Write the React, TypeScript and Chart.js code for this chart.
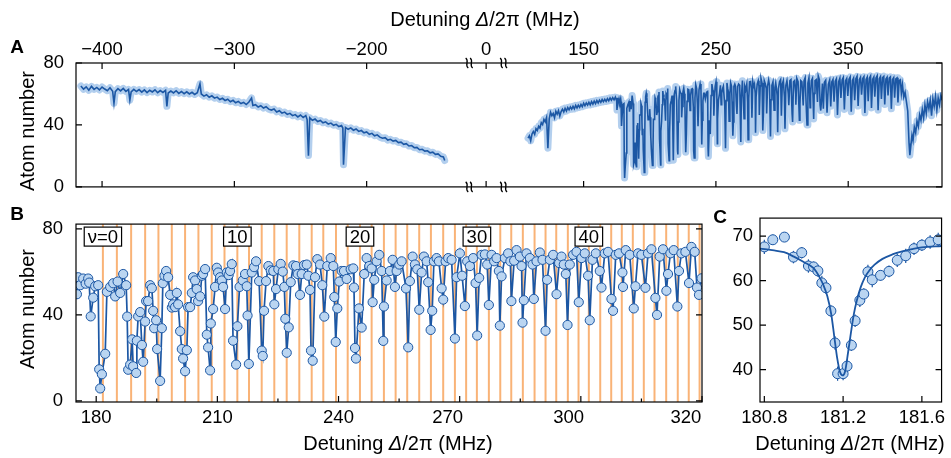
import React, { useEffect, useRef } from "react";
import { Chart, registerables } from "chart.js";

Chart.register(...registerables);

const FONT = '"Liberation Sans", Arial, Helvetica, sans-serif';
const DARK = "#1c57a4";
const LIGHT = "#bad5f1";
const BAND = "#b3cfee";
const ORANGE = "rgba(247,150,66,0.72)";
const TICK_FONT = { family: FONT, size: 18.5 };

// ---------------- Panel A (broken detuning axis) ----------------
const aLeftPoints: number[][] = [
  [-416,65.2],[-414,63.1],[-412,64.6],[-410,62.4],[-408,64.9],[-406,63.0],[-404,64.2],[-402,62.6],[-400,64.5],[-398,63.2],
  [-396,62.1],[-394,64.0],[-392,61.8],[-391,54.0],[-390,61.5],[-388,63.4],[-386,62.0],[-384,63.6],[-382,61.7],[-380,62.9],
  [-379,56.0],[-378,61.4],[-376,63.0],[-374,61.6],[-372,62.8],[-370,61.2],[-368,62.6],[-366,60.9],[-364,62.4],[-362,61.3],
  [-360,62.7],[-358,60.8],[-356,62.2],[-354,61.0],[-352,62.4],[-351,52.0],[-350,60.6],[-348,61.9],[-346,60.7],[-344,62.1],
  [-342,60.4],[-340,61.6],[-338,60.2],[-336,61.4],[-334,60.0],[-332,61.1],[-330,59.7],[-328,60.8],[-326,66.5],[-325,60.0],
  [-323,58.6],[-321,59.5],[-319,57.9],[-317,58.8],[-315,57.3],[-313,58.0],[-311,56.4],[-309,57.2],[-307,55.8],[-305,56.6],
  [-303,55.0],[-301,55.9],[-299,54.3],[-297,55.2],[-295,53.8],[-293,54.6],[-291,53.2],[-289,54.8],[-287,57.4],[-286,52.6],
  [-284,53.1],[-282,51.6],[-280,52.4],[-278,50.9],[-276,51.8],[-274,50.2],[-272,49.6],[-270,50.3],[-268,48.4],[-266,49.2],
  [-264,47.6],[-262,48.3],[-260,46.8],[-258,47.5],[-256,46.0],[-254,46.7],[-252,45.2],[-250,46.4],[-248,44.8],[-246,46.1],
  [-245,43.5],[-244,20.2],[-243,44.6],[-241,43.0],[-239,43.8],[-237,42.2],[-235,42.9],[-233,41.4],[-231,42.0],[-229,40.6],
  [-227,41.2],[-225,39.8],[-223,40.4],[-221,39.0],[-219,39.6],[-218,38.0],[-217.5,14.3],[-216,38.4],[-214,37.2],[-212,38.1],
  [-210,36.6],[-208,37.4],[-206,35.8],[-204,36.4],[-202,34.9],[-200,35.5],[-198,34.0],[-196,34.6],[-194,33.0],[-192,33.6],
  [-190,32.1],[-188,31.4],[-186,31.8],[-184,30.2],[-182,30.7],[-180,29.6],[-178,30.0],[-176,28.6],[-174,28.9],[-172,27.5],
  [-170,27.9],[-168,26.4],[-166,26.7],[-164,25.3],[-162,25.5],[-160,24.0],[-158,24.3],[-156,23.1],[-154,23.3],[-152,22.0],
  [-150,22.4],[-148,21.0],[-146,21.3],[-144,19.8],[-142,19.4],[-141,17.0]
];

const aRightPrePoints: number[][] = [
  [108,31.5],[109,33.0],[110,29.8],[111,34.2],[112,35.8],[113,34.0],[114,37.6],[115,36.4],[116,39.2],[117,38.0],
  [118,41.5],[119,40.2],[120,43.6],[121,42.0],[122,44.8],[123,25.0],[124,44.0],[125,48.2],[126,46.0],[127,47.4],
  [128,44.6],[129,48.8],[130,47.0],[131,49.2],[132,45.8],[133,48.6],[134,50.2],[135,48.4],[136,50.8],[137,49.0],
  [138,51.2],[139,49.8],[140,51.6],[141,50.2],[142,52.0],[143,50.4],[144,52.6],[145,51.0],[146,52.8],[147,51.4],
  [148,53.2],[149,51.8],[150,54.0],[151,52.4],[152,54.2],[153,52.8],[154,54.6],[155,53.0],[156,55.0],[157,53.4],
  [158,55.4],[159,53.8],[160,55.8],[161,54.2],[162,56.0],[163,54.6],[164,56.4],[165,55.0],[166,56.6],[167,55.2],
  [168,57.0],[169,55.6],[170,57.4],[171,56.0],[172,57.6],[173,56.2],[174,58.0],[175,55.5]
];

const aRightPostPoints: number[][] = [
  [330.5,66.8],[331.2,50.5],[332,67.5],[333,68.8],[334,47.9],[335,66.2],[336,69.0],[336.8,52.0],[337.6,67.8],[338.5,69.4],
  [339.3,55.0],[340.2,68.2],[341.1,69.8],[341.9,46.5],[342.8,68.0],[343.7,70.2],[344.5,57.5],[345.4,69.0],[346.3,70.6],[347.1,50.0],
  [348,68.5],[348.9,70.0],[349.7,58.8],[350.6,69.6],[351.5,71.0],[352.3,48.5],[353.2,68.8],[354.1,70.4],[354.9,56.0],[355.8,69.8],
  [356.7,71.4],[357.5,52.2],[358.4,69.2],[359.3,70.8],[360.1,59.5],[361,70.0],[361.9,71.2],[362.6,47.8],[363.5,69.4],[364.4,70.9],
  [365.1,55.4],[366,70.2],[366.9,71.6],[367.6,51.0],[368.5,69.6],[369.4,71.0],[370.1,58.2],[371,70.4],[371.9,71.8],[372.6,49.5],
  [373.5,69.8],[374.4,71.2],[375.1,56.8],[376,70.6],[376.9,71.4],[377.6,53.2],[378.5,69.6],[379.4,70.8],[380.1,59.0],[381,70.2],
  [381.9,71.0],[382.6,50.4],[383.5,69.4],[384.4,70.6],[385.1,57.6],[386,69.8],[386.9,70.4],[387.6,54.5],[388.5,68.6],[389.4,69.2],
  [390.2,60.5],[391,66.0],[392,58.0],[393,61.0],[394,55.0],[395,49.0],[396,28.0],[396.6,20.5],[397.4,27.0],[398.2,33.5],
  [399,30.0],[400,38.5],[401,35.0],[402,42.5],[403,39.0],[404,46.5],[405,43.0],[406,50.0],[407,44.5],[408,53.0],
  [409,47.5],[410,55.0],[411,50.5],[412,56.0],[413,46.0],[414,57.0],[415,52.0],[416,58.5],[417,49.5],[418,57.5],
  [419,53.0],[420,59.0],[421,56.0]
];

const aShift = 186; // right-hand part of the broken axis is drawn shifted by this many MHz
const aXMin = -419.7;
const aXMax = 234.9;
const aBreaks = [-122.5, -96.5];
const aZeroTickPos = -109.7;
const aLeftTicks = [-400, -300, -200];
const aRightTicks = [150, 250, 350];
const aTopTickLabels = ["\u2212400", "\u2212300", "\u2212200", "0", "150", "250", "350"];
const aYTicks = [0, 40, 80];

// ---------------- Panel B ----------------
const bPoints: number[][] = [
  [175.22,49.6],[175.55,57.5],[176.04,53.8],[176.78,56.9],[177.4,54.5],[178.02,56.9],[178.27,55.0],[178.64,39.3],[179.26,48.0],[179.75,53.3],
  [180.49,53.8],[180.74,14.7],[180.99,5.8],[181.41,12.4],[182.23,21.9],[182.65,50.7],[183.46,53.0],[184.21,54.7],[184.70,48.6],[185.3,55.5],
  [185.94,50.2],[186.68,59.0],[187.42,53.8],[187.67,39.2],[187.92,14.5],[188.41,16.9],[188.91,28.6],[189.15,16.1],[189.90,13.0],[190.07,28.0],
  [190.39,39.3],[190.89,41.3],[191.31,26.0],[191.63,18.2],[192.12,36.9],[192.37,46.4],[192.86,46.4],[193.36,53.8],[193.78,52.4],[194.10,41.9],
  [194.35,33.8],[194.84,37.5],[195.09,24.1],[195.83,9.3],[196.25,33.8],[196.50,54.7],[196.90,58.2],[197.32,60.4],[197.81,57.5],[198.31,49.3],
  [198.73,43.4],[199.05,44.9],[199.54,43.6],[199.96,50.2],[200.29,44.9],[200.78,32.4],[201.20,24.1],[201.52,19.7],[202.01,13.8],[202.44,23.6],
  [202.76,43.6],[203.26,43.6],[203.68,50.2],[204.00,57.5],[204.49,56.0],[204.9,52.0],[205.23,46.4],[205.73,48.6],[206.15,58.2],[206.47,59.0],
  [206.97,61.3],[207.39,30.8],[207.71,24.9],[208.20,14.2],[208.38,36.0],[208.95,42.7],[209.44,53.0],[209.86,61.9],[210.18,59.7],[210.68,57.5],
  [211.1,56.0],[211.42,53.0],[211.91,42.7],[212.34,59.7],[212.8,58.5],[213.15,60.4],[213.57,63.6],[213.89,28.0],[214.64,16.9],[214.96,34.7],
  [215.5,53.0],[216.29,56.0],[216.86,59.0],[217.28,53.3],[217.48,39.7],[217.80,17.2],[218.52,59.7],[219.09,62.2],[219.58,64.9],[220.33,55.7],
  [220.99,23.4],[221.24,20.9],[221.56,41.9],[222.06,55.7],[222.63,62.7],[223.22,60.7],[223.86,60.4],[224.11,44.9],[224.53,52.0],[225.10,61.2],
  [225.69,63.7],[226.19,60.1],[226.58,53.0],[226.83,38.2],[227.18,22.4],[227.67,34.2],[228.17,55.2],[228.81,63.0],[229.48,62.7],[229.90,59.0],
  [230.47,49.3],[230.89,59.0],[231.46,63.1],[232.13,63.4],[232.52,58.2],[232.94,51.6],[233.19,23.4],[233.61,18.7],[234.18,57.5],[234.75,65.9],
  [235.42,63.4],[235.99,53.8],[236.48,39.2],[237.22,62.7],[238.07,66.4],[238.71,62.7],[238.96,48.3],[239.31,27.4],[239.70,43.0],[240.19,55.5],
  [240.79,60.4],[241.36,60.4],[242.02,56.7],[243.01,61.2],[243.66,61.6],[243.83,52.7],[244.08,24.6],[244.32,19.7],[245.06,43.0],[245.73,34.1],
  [246.37,59.0],[246.96,66.4],[247.61,62.7],[248.20,61.6],[248.45,45.9],[248.85,56.3],[249.44,64.9],[250.09,67.9],[250.68,60.4],[251.08,27.9],
  [251.25,43.9],[251.92,56.0],[252.74,60.4],[253.40,65.6],[253.97,53.0],[254.39,60.4],[255.04,63.4],[255.63,64.9],[256.70,52.3],[257.26,24.9],
  [257.68,55.7],[258.35,67.1],[258.92,63.4],[259.49,61.2],[259.99,42.4],[260.58,59.7],[261.15,67.1],[261.82,64.9],[262.21,55.2],[262.81,33.0],
  [263.20,41.9],[263.62,64.9],[264.29,66.4],[264.86,64.9],[265.53,52.3],[265.92,47.1],[266.52,64.9],[267.16,66.4],[268.00,65.6],[268.82,29.0],
  [269.24,57.5],[270.05,68.6],[270.6,58.2],[271.29,44.1],[271.86,64.9],[272.53,62.7],[273.34,66.4],[273.94,54.8],[274.33,30.4],[274.83,57.2],
  [275.42,67.9],[276.24,68.1],[276.81,63.4],[277.23,44.6],[277.90,67.9],[278.54,64.9],[279.13,66.4],[279.70,60.4],[279.95,35.0],[280.37,57.9],
  [281.19,66.4],[282.00,68.6],[282.55,64.9],[282.80,46.4],[283.49,65.2],[284.08,70.1],[284.90,67.1],[285.32,62.7],[285.56,36.4],[285.89,46.8],
  [286.55,68.6],[287.37,66.4],[288.04,63.4],[288.36,47.4],[289.03,64.9],[289.85,69.0],[290.51,65.6],[291.26,32.6],[291.65,56.3],[292.32,65.6],
  [293.14,67.9],[293.98,49.6],[294.62,64.1],[295.21,67.1],[295.78,63.4],[296.28,59.0],[296.70,35.3],[297.27,63.4],[298.08,67.9],[298.92,69.3],
  [299.49,45.9],[300.16,66.4],[300.97,68.6],[301.79,58.2],[302.21,37.5],[302.88,65.6],[303.70,68.6],[304.69,60.4],[305.11,52.7],[305.92,68.6],
  [306.74,69.3],[307.58,47.4],[307.97,41.9],[308.64,67.9],[309.46,68.6],[310.30,59.7],[310.44,53.0],[311.12,70.1],[312.11,67.9],[313.10,43.0],
  [313.52,53.3],[314.16,68.6],[315.00,67.9],[315.99,52.6],[316.63,68.6],[317.47,70.5],[318.46,47.9],[318.86,40.0],[319.53,67.1],[320.34,70.5],
  [321.18,51.2],[321.58,59.0],[322.17,68.6],[322.99,70.1],[323.90,43.9],[324.30,60.4],[324.90,68.6],[325.89,69.3],[326.78,54.8],[327.37,71.6],
  [328.19,69.3],[328.76,52.7],[329.25,49.3],[329.9,57.0]
];

const bLevels = [
  181.66,185.12,188.65,192.12,195.41,198.72,202.01,205.31,208.61,211.77,
  214.95,217.84,220.98,224.10,227.17,230.29,233.36,236.23,239.37,242.27,
  245.31,248.20,251.24,254.14,257.01,259.98,262.88,265.92,268.82,271.60,
  274.26,277.23,280.05,282.77,285.64,288.54,291.26,293.91,296.78,299.43,
  301.98,304.80,307.52,310.14,312.87,315.59,318.24,321.13,324.00,326.72,329.4
];
const bLevelBoxes = [
  { level: 0, text: "\u03bd=0" },
  { level: 10, text: "10" },
  { level: 20, text: "20" },
  { level: 30, text: "30" },
  { level: 40, text: "40" }
];
const bTickLabelPos = [180, 210, 240, 267, 297, 326];
const bTickLabels = ["180", "210", "240", "270", "300", "320"];
const bMajorTicks = [180, 210, 240, 270, 300, 330];
const bMinorTicks = [195, 225, 255, 285, 315];
const bYTicks = [0, 40, 80];

// ---------------- Panel C ----------------
const cPoints: number[][] = [
  [180.800,67.6],[180.843,69.2],[180.902,69.8],[180.948,65.3],[180.990,66.3],[181.024,63.3],[181.050,63.1],[181.072,62.2],
  [181.092,59.5],[181.113,58.4],[181.138,53.2],[181.159,46.0],[181.172,39.1],[181.200,39.1],[181.220,40.8],[181.242,45.5],
  [181.261,51.0],[181.285,55.6],[181.305,57.0],[181.326,62.0],[181.348,60.2],[181.390,61.2],[181.433,62.1],[181.475,64.6],
  [181.518,65.6],[181.560,67.2],[181.600,68.0],[181.642,68.7],[181.683,69.2]
];
const cErr = [1.6,1.2,1.0,1.4,1.3,1.5,1.2,1.3,1.6,1.4,1.3,1.5,1.6,1.5,1.4,1.3,1.4,1.5,1.3,1.6,1.7,1.2,1.3,1.5,1.6,1.4,1.3,1.5,1.6];
const cFit: number[][] = [
  [180.778,67.2],[180.85,66.8],[180.9,66.4],[180.95,65.4],[181.0,64.2],[181.05,62.8],[181.08,60.8],[181.1,59.0],
  [181.12,56.5],[181.14,52.4],[181.155,47.5],[181.17,42.6],[181.185,39.4],[181.197,38.7],[181.21,39.6],[181.225,43.8],
  [181.24,48.4],[181.255,52.6],[181.27,55.6],[181.29,58.6],[181.31,60.7],[181.335,62.4],[181.36,63.6],[181.4,64.9],
  [181.45,65.9],[181.5,66.6],[181.55,67.1],[181.6,67.5],[181.7,67.8]
];
const cXTicks = [180.8, 181.2, 181.6];
const cXTickLabels = ["180.8", "181.2", "181.6"];
const cYTicks = [40, 50, 60, 70];

// ---------------- helpers ----------------
const toXY = (pts: number[][]) => pts.map(([x, y]) => ({ x, y }));

function drawFrame(chart: any, xTicks: { v: number; len: number }[], yTicks: { v: number; len: number }[], xTop: boolean, yRight: boolean) {
  const { ctx, chartArea: a, scales } = chart;
  ctx.save();
  ctx.strokeStyle = "#000";
  ctx.lineWidth = 1.2;
  ctx.strokeRect(a.left, a.top, a.right - a.left, a.bottom - a.top);
  ctx.beginPath();
  for (const t of xTicks) {
    const px = scales.x.getPixelForValue(t.v);
    ctx.moveTo(px, a.bottom);
    ctx.lineTo(px, a.bottom - t.len);
    if (xTop) {
      ctx.moveTo(px, a.top);
      ctx.lineTo(px, a.top + t.len);
    }
  }
  for (const t of yTicks) {
    const py = scales.y.getPixelForValue(t.v);
    ctx.moveTo(a.left, py);
    ctx.lineTo(a.left + t.len, py);
    if (yRight) {
      ctx.moveTo(a.right, py);
      ctx.lineTo(a.right - t.len, py);
    }
  }
  ctx.stroke();
  ctx.restore();
}

function squiggle(ctx: CanvasRenderingContext2D, x: number, y: number) {
  ctx.save();
  ctx.strokeStyle = "#000";
  ctx.lineWidth = 1.3;
  for (const dx of [-2.2, 2.2]) {
    ctx.beginPath();
    ctx.moveTo(x + dx - 1.3, y - 5);
    ctx.bezierCurveTo(x + dx + 2.8, y - 2.2, x + dx - 2.8, y + 2.2, x + dx + 1.3, y + 5);
    ctx.stroke();
  }
  ctx.restore();
}

const noLegend = { legend: { display: false }, tooltip: { enabled: false }, title: { display: false } };

function configA(): any {
  const topTicks = [...aLeftTicks, aZeroTickPos, ...aRightTicks.map((v) => v - aShift)];
  const rightPts = () => toXY([...aRightPrePoints, ...bPoints, ...aRightPostPoints]);
  const leftPts = () => toXY(aLeftPoints);
  const band = (data: any, axis: string) => ({ data, xAxisID: axis, yAxisID: "y", order: 2, borderColor: BAND, backgroundColor: BAND, borderWidth: 7, pointRadius: 0, borderJoinStyle: "round", borderCapStyle: "round", tension: 0, fill: false });
  const line = (data: any, axis: string) => ({ data, xAxisID: axis, yAxisID: "y", order: 1, borderColor: DARK, backgroundColor: DARK, borderWidth: 1.6, pointRadius: 0, tension: 0, fill: false });
  return {
    type: "line",
    data: { datasets: [line(leftPts(), "x"), line(rightPts(), "x2"), band(leftPts(), "x"), band(rightPts(), "x2")] },
    options: {
      animation: false,
      responsive: false,
      events: [],
      layout: { padding: { left: 0, right: 9, top: 0, bottom: 13 } },
      plugins: noLegend,
      scales: {
        x: {
          type: "linear", position: "top", min: aXMin, max: aXMax,
          afterBuildTicks: (s: any) => { s.ticks = topTicks.map((value) => ({ value })); },
          afterFit: (s: any) => { s.height = 63; },
          ticks: { callback: (_v: any, i: number) => aTopTickLabels[i], autoSkip: false, maxRotation: 0, padding: 2, font: TICK_FONT, color: "#000" },
          grid: { display: false, drawTicks: false }, border: { display: false }
        },
        x2: { type: "linear", display: false, min: aXMin + aShift, max: aXMax + aShift },
        y: {
          min: 0, max: 80,
          afterBuildTicks: (s: any) => { s.ticks = aYTicks.map((value) => ({ value })); },
          afterFit: (s: any) => { s.width = 76; },
          ticks: { padding: 12, font: TICK_FONT, color: "#000" },
          grid: { display: false, drawTicks: false }, border: { display: false }
        }
      }
    },
    plugins: [{
      id: "frameA",
      afterDraw(chart: any) {
        drawFrame(chart, topTicks.map((v) => ({ v, len: 6 })), aYTicks.map((v) => ({ v, len: 6 })), true, true);
        const a = chart.chartArea;
        for (const b of aBreaks) {
          const px = chart.scales.x.getPixelForValue(b);
          squiggle(chart.ctx, px, a.top);
          squiggle(chart.ctx, px, a.bottom);
        }
      }
    }]
  };
}

function configB(): any {
  return {
    type: "line",
    data: {
      datasets: [{
        data: toXY(bPoints), borderColor: DARK, borderWidth: 1.7, tension: 0,
        pointRadius: 4.6, pointBackgroundColor: LIGHT, pointBorderColor: DARK, pointBorderWidth: 1
      }]
    },
    options: {
      animation: false,
      responsive: false,
      events: [],
      layout: { padding: { left: 0, right: 10, top: 16, bottom: 0 } },
      plugins: noLegend,
      scales: {
        x: {
          type: "linear", min: 175, max: 330,
          afterBuildTicks: (s: any) => { s.ticks = bTickLabelPos.map((value) => ({ value })); },
          afterFit: (s: any) => { s.height = 56; },
          ticks: { callback: (_v: any, i: number) => bTickLabels[i], autoSkip: false, maxRotation: 0, padding: 5, font: TICK_FONT, color: "#000" },
          grid: { display: false, drawTicks: false }, border: { display: false }
        },
        y: {
          min: -0.5, max: 82.2,
          afterBuildTicks: (s: any) => { s.ticks = bYTicks.map((value) => ({ value })); },
          afterFit: (s: any) => { s.width = 76; },
          ticks: { padding: 13, font: TICK_FONT, color: "#000" },
          grid: { display: false, drawTicks: false }, border: { display: false }
        }
      }
    },
    plugins: [{
      id: "levelsB",
      beforeDatasetsDraw(chart: any) {
        const { ctx, chartArea: a, scales } = chart;
        ctx.save();
        ctx.strokeStyle = ORANGE;
        ctx.lineWidth = 2;
        for (const lv of bLevels) {
          const px = scales.x.getPixelForValue(lv);
          if (px < a.left || px > a.right) continue;
          ctx.beginPath();
          ctx.moveTo(px, a.top);
          ctx.lineTo(px, a.bottom);
          ctx.stroke();
        }
        ctx.restore();
      },
      afterDraw(chart: any) {
        const { ctx, chartArea: a, scales } = chart;
        ctx.save();
        ctx.font = `18.5px ${FONT}`;
        for (const b of bLevelBoxes) {
          const px = scales.x.getPixelForValue(bLevels[b.level]);
          const w = ctx.measureText(b.text).width + 7;
          const h = 19;
          const top = a.top + 3;
          ctx.fillStyle = "#fff";
          ctx.fillRect(px - w / 2, top, w, h);
          ctx.strokeStyle = "#000";
          ctx.lineWidth = 1.2;
          ctx.strokeRect(px - w / 2, top, w, h);
          ctx.fillStyle = "#000";
          ctx.textAlign = "center";
          ctx.textBaseline = "middle";
          ctx.fillText(b.text, px, top + h / 2 + 1);
        }
        ctx.restore();
        drawFrame(chart, [...bMajorTicks.map((v) => ({ v, len: 6 })), ...bMinorTicks.map((v) => ({ v, len: 3.5 }))], bYTicks.map((v) => ({ v, len: 6 })), false, true);
      }
    }]
  };
}

function configC(): any {
  return {
    type: "line",
    data: {
      datasets: [
        { data: toXY(cFit), borderColor: DARK, borderWidth: 1.8, pointRadius: 0, cubicInterpolationMode: "monotone" },
        { data: toXY(cPoints), showLine: false, pointRadius: 5, pointBackgroundColor: LIGHT, pointBorderColor: DARK, pointBorderWidth: 1 }
      ]
    },
    options: {
      animation: false,
      responsive: false,
      events: [],
      layout: { padding: { left: 0, right: 9, top: 16, bottom: 0 } },
      plugins: noLegend,
      scales: {
        x: {
          type: "linear", min: 180.778, max: 181.70,
          afterBuildTicks: (s: any) => { s.ticks = cXTicks.map((value) => ({ value })); },
          afterFit: (s: any) => { s.height = 56; },
          ticks: { callback: (_v: any, i: number) => cXTickLabels[i], autoSkip: false, maxRotation: 0, padding: 5, font: TICK_FONT, color: "#000" },
          grid: { display: false, drawTicks: false }, border: { display: false }
        },
        y: {
          min: 32.73, max: 74.07,
          afterBuildTicks: (s: any) => { s.ticks = cYTicks.map((value) => ({ value })); },
          afterFit: (s: any) => { s.width = 48; },
          ticks: { padding: 7, font: TICK_FONT, color: "#000" },
          grid: { display: false, drawTicks: false }, border: { display: false }
        }
      }
    },
    plugins: [{
      id: "errC",
      beforeDatasetsDraw(chart: any) {
        const { ctx, scales } = chart;
        ctx.save();
        ctx.strokeStyle = DARK;
        ctx.lineWidth = 1.2;
        cPoints.forEach(([x, y], i) => {
          const px = scales.x.getPixelForValue(x);
          ctx.beginPath();
          ctx.moveTo(px, scales.y.getPixelForValue(y - cErr[i]));
          ctx.lineTo(px, scales.y.getPixelForValue(y + cErr[i]));
          ctx.stroke();
        });
        ctx.restore();
      },
      afterDraw(chart: any) {
        drawFrame(chart, cXTicks.map((v) => ({ v, len: 6 })), cYTicks.map((v) => ({ v, len: 6 })), false, true);
      }
    }]
  };
}

function ChartBox({ left, top, width, height, make }: { left: number; top: number; width: number; height: number; make: () => any }) {
  const ref = useRef<HTMLCanvasElement>(null);
  useEffect(() => {
    const chart = new Chart(ref.current as HTMLCanvasElement, make());
    return () => chart.destroy();
  }, []);
  return <canvas ref={ref} width={width} height={height} style={{ position: "absolute", left, top, width, height }} />;
}

const textBase: React.CSSProperties = { position: "absolute", fontFamily: FONT, fontSize: 20, lineHeight: "20px", color: "#000", whiteSpace: "nowrap" };

function DetLabel({ cx, top }: { cx: number; top: number }) {
  return (
    <div style={{ ...textBase, left: cx, top, transform: "translateX(-50%)" }}>
      Detuning <span style={{ fontStyle: "italic" }}>Δ</span>/2π (MHz)
    </div>
  );
}

function YLabel({ cx, cy }: { cx: number; cy: number }) {
  return (
    <div style={{ ...textBase, left: cx, top: cy, transform: "translate(-50%, -50%) rotate(-90deg)" }}>Atom number</div>
  );
}

function Letter({ cx, cy, t }: { cx: number; cy: number; t: string }) {
  return (
    <div style={{ ...textBase, fontSize: 19, fontWeight: "bold", left: cx, top: cy, transform: "translate(-50%, -50%)" }}>{t}</div>
  );
}

export default function App() {
  return (
    <div style={{ position: "absolute", left: 0, top: 0, width: 951, height: 458, background: "#fff", overflow: "hidden" }}>
      <ChartBox left={0} top={0} width={951} height={210} make={configA} />
      <ChartBox left={0} top={200} width={712} height={258} make={configB} />
      <ChartBox left={712} top={200} width={239} height={258} make={configC} />
      <DetLabel cx={485} top={9} />
      <DetLabel cx={398} top={433} />
      <DetLabel cx={850} top={433} />
      <YLabel cx={27} cy={131} />
      <YLabel cx={27} cy={309} />
      <Letter cx={17} cy={47} t="A" />
      <Letter cx={17} cy={214} t="B" />
      <Letter cx={720} cy={217} t="C" />
    </div>
  );
}
